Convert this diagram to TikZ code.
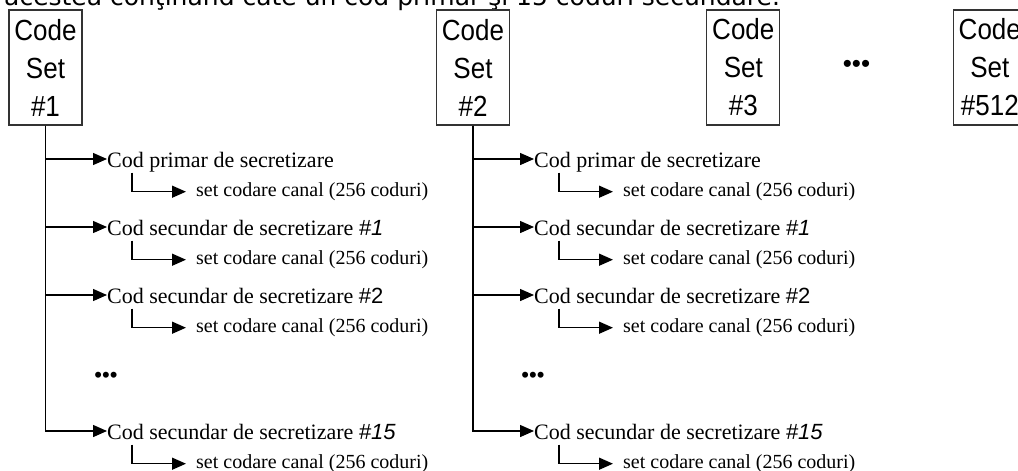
\documentclass[tikz,border=0pt]{standalone}
\usepackage{fontspec}
\setmainfont{Liberation Serif}
\newfontfamily\arialf{Liberation Sans}
\newfontfamily\verdf{DejaVu Sans}
\usetikzlibrary{arrows.meta}
% slightly tall lettering used inside the code set boxes
\newcommand\tallln[1]{\scalebox{1}[1.12]{#1}}

\begin{document}
\begin{tikzpicture}[x=1pt,y=-1pt,
  codeset/.style={draw=black!80,line width=1.3pt,minimum width=73pt,minimum height=115pt,
    inner sep=0pt,align=center,font=\arialf\fontsize{26}{38}\selectfont},
  mainlbl/.style={anchor=base west,inner sep=0pt,text height=15pt,text depth=5pt,
    font=\fontsize{22}{26}\selectfont},
  sublbl/.style={anchor=base west,inner sep=0pt,text height=14pt,text depth=4.4pt,
    font=\fontsize{20}{24}\selectfont},
  dotsl/.style={inner sep=0pt,font=\arialf\fontsize{22}{24}\selectfont},
  conn/.style={line width=1.4pt,-{Triangle[length=14pt,width=12pt]}}]
\useasboundingbox (0,0) rectangle (1018,471);

% running text above the figure
\node[anchor=base west,inner sep=0pt,font=\verdf\fontsize{25}{30}\selectfont]
  (intro) at (4,5.5) {acestea conţinând câte un cod primar şi 15 coduri secundare.};

% code set boxes
\node[codeset] (cs1) at (45.5,67.5) {\tallln{Code}\\\tallln{Set}\\\tallln{\#1}};
\node[codeset] (cs2) at (473,67.5) {\tallln{Code}\\\tallln{Set}\\\tallln{\#2}};
\node[codeset] (cs3) at (743.3,67.5) {\tallln{Code}\\\tallln{Set}\\\tallln{\#3}};
\node[codeset] (cs4) at (989.8,67.5) {\tallln{Code}\\\tallln{Set}\\\tallln{\#512}};
\node[dotsl,font=\arialf\fontsize{26}{28}\selectfont] (topdots) at (856.5,66.7) {•••};

% branches of the first two code sets
\foreach \c/\dx in {1/0,2/427}{
  \begin{scope}[xshift=\dx pt]
    \node[mainlbl] (m\c a) at (107,167.5) {Cod primar de secretizare};
    \node[mainlbl] (m\c b) at (107,235.5) {Cod secundar de secretizare {\arialf\itshape\#1}};
    \node[mainlbl] (m\c c) at (107,303.5) {Cod secundar de secretizare {\arialf\#2}};
    \node[mainlbl] (m\c d) at (107,439.5) {Cod secundar de secretizare {\arialf\itshape\#15}};
    \node[dotsl] (dots\c) at (106,377) {•••};
    \foreach \r [count=\i from 0] in {a,b,c,d}{
      \pgfmathsetmacro\yy{196.5+68*\i+(\i==3?68:0)}
      \node[sublbl] (s\c\r) at (196,\yy) {set codare canal (256 coduri)};
      \draw[conn] (cs\c.south) |- ([yshift=3.5pt]m\c\r.west);
      \draw[conn,shorten >=10pt] ([xshift=25pt]m\c\r.south west) |- (s\c\r.west);
    }
  \end{scope}
}
\end{tikzpicture}
\end{document}
